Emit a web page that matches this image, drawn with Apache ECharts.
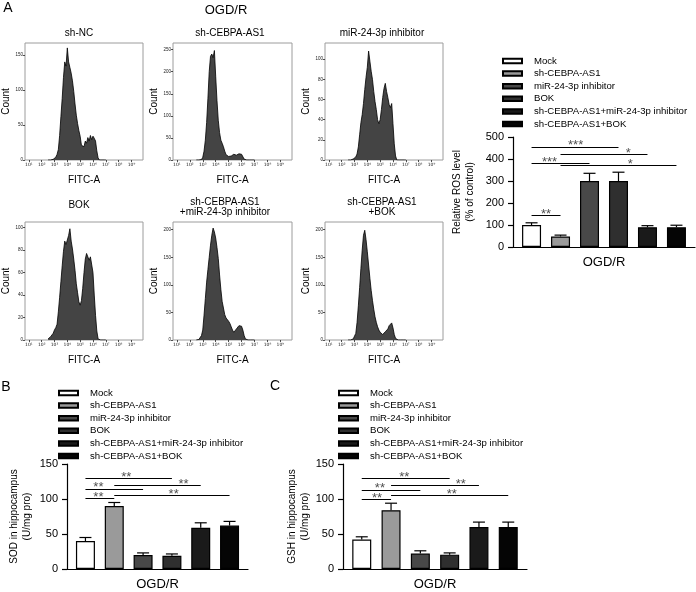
<!DOCTYPE html>
<html>
<head>
<meta charset="utf-8">
<title>OGD/R - ROS, SOD, GSH</title>
<script src="https://cdn.jsdelivr.net/npm/echarts@6/dist/echarts.min.js"></script>
<style>
  html, body { margin: 0; padding: 0; background: #fff; }
  #chart { width: 696px; height: 592px; }
</style>
</head>
<body>
<div id="chart"></div>
<script>
// FITC-A histograms, x = log10(FITC-A)
const fitcLog = [2.5, 2.6, 2.7, 2.8, 2.9, 3.0, 3.1, 3.2, 3.3, 3.4, 3.5, 3.6, 3.7, 3.8, 3.9, 4.0, 4.1, 4.2, 4.3, 4.4, 4.5, 4.6, 4.7, 4.8, 4.9, 5.0, 5.1, 5.2, 5.3, 5.4, 5.5, 5.6, 5.7, 5.8, 5.9, 6.0, 6.1, 6.2, 6.3, 6.4, 6.5, 6.6, 6.7, 6.8, 6.9, 7.0]
const shNC = [0, 0, 0, 0, 1, 2, 4, 8, 15, 35, 62, 88, 118, 140, 134, 160, 140, 132, 124, 113, 98, 80, 64, 52, 42, 34, 21, 23, 19, 27, 24, 32, 27, 35, 29, 34, 31, 27, 13, 3, 0, 0, 0, 0, 0, 0]
const shCebpa = [0, 0, 0, 0, 1, 6, 20, 45, 85, 140, 200, 235, 240, 232, 248, 190, 135, 90, 62, 45, 38, 30, 20, 12, 10, 8, 11, 9, 12, 13, 10, 11, 9, 14, 15, 13, 9, 2, 0, 0, 0, 0, 0, 0, 0, 0]
const mirInhibitor = [0, 0, 0, 0, 1, 2, 3, 6, 13, 25, 37, 45, 56, 70, 82, 92, 108, 98, 88, 80, 68, 58, 50, 40, 36, 40, 50, 62, 71, 76, 68, 62, 55, 52, 56, 36, 16, 4, 0, 0, 0, 0, 0, 0, 0, 0]
const bok = [1, 2, 3, 4, 6, 9, 11, 14, 25, 38, 52, 66, 79, 88, 85, 84, 93, 99, 88, 81, 72, 62, 50, 42, 34, 31, 35, 46, 60, 72, 77, 78, 71, 74, 75, 60, 40, 22, 8, 1, 0, 0, 0, 0, 0, 0]
const shCebpaMir = [0, 0, 1, 3, 8, 18, 45, 75, 105, 128, 150, 172, 190, 203, 196, 185, 168, 148, 118, 92, 70, 58, 46, 40, 38, 34, 30, 24, 18, 14, 16, 20, 22, 26, 29, 25, 18, 8, 2, 0, 0, 0, 0, 0, 0, 0]
const shCebpaBok = [0, 0, 0, 1, 2, 4, 12, 32, 62, 95, 130, 163, 190, 199, 182, 160, 136, 112, 90, 72, 56, 42, 32, 24, 18, 14, 12, 10, 12, 15, 18, 20, 26, 29, 31, 22, 10, 3, 0, 0, 0, 0, 0, 0, 0, 0]

const histTitles = ['sh-NC', 'sh-CEBPA-AS1', 'miR-24-3p inhibitor', 'BOK', 'sh-CEBPA-AS1\n+miR-24-3p inhibitor', 'sh-CEBPA-AS1\n+BOK']
const fitcDecades = [1, 2, 3, 4, 5, 6, 7, 8, 9]
const histYTicks = [
  [0, 50, 100, 150],
  [0, 50, 100, 150, 200, 250],
  [0, 20, 40, 60, 80, 100],
  [0, 20, 40, 60, 80, 100],
  [0, 50, 100, 150, 200],
  [0, 50, 100, 150, 200]
]

// bar charts
const groups = ['Mock', 'sh-CEBPA-AS1', 'miR-24-3p inhibitor', 'BOK', 'sh-CEBPA-AS1+miR-24-3p inhibitor', 'sh-CEBPA-AS1+BOK']
const rosMean = [100, 48, 300, 300, 90, 90]
const rosSd = [10, 6, 35, 40, 7, 9]
const sodMean = [40, 90, 20, 19, 59, 62]
const sodSd = [5, 5, 3, 2.5, 7, 6]
const gshMean = [42, 84, 22, 20.5, 60, 60]
const gshSd = [4, 10, 4, 2.5, 7, 7]

// significance: [from group, to group, level, stars, star position]
const rosSig = [[0, 3, 455, '***', 1.52], [1, 4, 423, '*', 3.34], [0, 2, 382, '***', 0.62], [1, 5, 373, '*', 3.41], [0, 1, 145, '**', 0.5]]
const sodSig = [[0, 3, 129, '**', 1.42], [1, 4, 120, '**', 3.4], [0, 2, 114.5, '**', 0.45], [1, 5, 105, '**', 3.06], [0, 1, 101, '**', 0.45]]
const gshSig = [[0, 3, 129, '**', 1.45], [1, 4, 120, '**', 3.38], [0, 2, 113, '**', 0.62], [1, 5, 105, '**', 3.07], [0, 1, 99.5, '**', 0.52]]

const FONT = 'Arial, "Liberation Sans", Helvetica, sans-serif'
const barColors = ['#ffffff', '#9a9a9a', '#484848', '#2f2f2f', '#1a1a1a', '#050505']
const sup = { 1: '¹', 2: '²', 3: '³', 4: '⁴', 5: '⁵', 6: '⁶', 7: '⁷', 8: '⁸', 9: '⁹' }

// [left, top, width, height, yMax] of each histogram box
const histBoxes = [
  [23, 43, 120, 117, 167],
  [173, 43, 119, 117, 265],
  [325, 43, 118, 117, 116],
  [23, 222, 120, 118, 105],
  [173, 222, 119, 118, 214],
  [325, 222, 118, 118, 214]
]
const histTitlePos = [[79, 33], [230, 33], [382, 33], [79, 205], [225, 207.5], [382, 207]]
const histData = [shNC, shCebpa, mirInhibitor, bok, shCebpaMir, shCebpaBok]

const barPanels = [
  { box: [513, 137, 182, 110], max: 500, interval: 100, yName: 'Relative ROS level\n(% of control)', nameGap: 36, mean: rosMean, sd: rosSd, sig: rosSig, legend: [502, 55] },
  { box: [67, 464, 181, 110], max: 150, interval: 50, yName: 'SOD in hippocampus\n(U/mg pro)', nameGap: 33, mean: sodMean, sd: sodSd, sig: sodSig, legend: [58, 387] },
  { box: [343, 464, 184, 110], max: 150, interval: 50, yName: 'GSH in hippocampus\n(U/mg pro)', nameGap: 31, mean: gshMean, sd: gshSd, sig: gshSig, legend: [338, 387] }
]

const grid = []
const xAxis = []
const yAxis = []
const series = []
const legend = []
const graphic = []

function label (text, x, y, size, extra) {
  graphic.push({
    type: 'text',
    x: x,
    y: y,
    silent: true,
    style: Object.assign({
      text: text,
      font: size + 'px ' + FONT,
      fill: '#000',
      textAlign: 'center',
      textVerticalAlign: 'middle'
    }, extra || {})
  })
}

histBoxes.forEach(function (b, i) {
  grid.push({ left: b[0], top: b[1], width: b[2], height: b[3], show: true, borderColor: '#9c9c9c', borderWidth: 1 })
  xAxis.push({
    type: 'value',
    gridIndex: i,
    min: 0.7,
    max: 9.9,
    axisLine: { show: false },
    axisTick: { show: true, customValues: fitcDecades, length: 2, lineStyle: { color: '#222', width: 0.8 } },
    axisLabel: {
      customValues: fitcDecades,
      fontSize: 4.5,
      margin: 2,
      color: '#222',
      fontFamily: '"DejaVu Sans", sans-serif',
      formatter: function (v) { return '10' + sup[v] }
    },
    splitLine: { show: false },
    name: 'FITC-A',
    nameLocation: 'middle',
    nameGap: 15,
    nameTextStyle: { fontSize: 10, fontFamily: FONT, color: '#000' }
  })
  yAxis.push({
    type: 'value',
    gridIndex: i,
    min: 0,
    max: b[4],
    axisLine: { show: false, onZero: false },
    axisTick: { show: true, customValues: histYTicks[i], length: 2, lineStyle: { color: '#222', width: 0.8 } },
    axisLabel: { customValues: histYTicks[i], fontSize: 4.5, margin: 2, color: '#222' },
    splitLine: { show: false },
    name: 'Count',
    nameLocation: 'middle',
    nameGap: 14,
    nameTextStyle: { fontSize: 10, fontFamily: FONT, color: '#000' }
  })
  series.push({
    type: 'line',
    name: 'hist ' + histTitles[i],
    xAxisIndex: i,
    yAxisIndex: i,
    data: fitcLog.map(function (x, k) { return [x, histData[i][k]] }),
    symbol: 'none',
    silent: true,
    lineStyle: { color: '#000', width: 0.8 },
    areaStyle: { color: '#444444', opacity: 1 }
  })
  label(histTitles[i], histTitlePos[i][0], histTitlePos[i][1], 10, { lineHeight: 10 })
})

function errorBar (params, api) {
  const x = api.value(0)
  const base = api.coord([x, api.value(1)])
  const tip = api.coord([x, api.value(1) + api.value(2)])
  const st = { stroke: '#000', lineWidth: 1.2 }
  return {
    type: 'group',
    children: [
      { type: 'line', shape: { x1: base[0], y1: base[1], x2: tip[0], y2: tip[1] }, style: st },
      { type: 'line', shape: { x1: tip[0] - 6, y1: tip[1], x2: tip[0] + 6, y2: tip[1] }, style: st }
    ]
  }
}

barPanels.forEach(function (p, n) {
  const gi = 6 + n
  grid.push({ left: p.box[0], top: p.box[1], width: p.box[2], height: p.box[3] })
  xAxis.push({
    type: 'value',
    gridIndex: gi,
    min: -0.64,
    max: 5.64,
    axisLine: { onZero: false, lineStyle: { color: '#000', width: 1.2 } },
    axisTick: { show: false },
    axisLabel: { show: false },
    splitLine: { show: false },
    name: 'OGD/R',
    nameLocation: 'middle',
    nameGap: 9,
    nameTextStyle: { fontSize: 13, fontFamily: FONT, color: '#000' }
  })
  yAxis.push({
    type: 'value',
    gridIndex: gi,
    min: 0,
    max: p.max,
    interval: p.interval,
    axisLine: { show: true, onZero: false, lineStyle: { color: '#000', width: 1.2 } },
    axisTick: { show: true, length: 5, lineStyle: { color: '#000', width: 1.2 } },
    axisLabel: { fontSize: 11, margin: 9, color: '#000', fontFamily: FONT },
    splitLine: { show: false },
    name: p.yName,
    nameLocation: 'middle',
    nameGap: p.nameGap,
    nameTextStyle: { fontSize: 10, lineHeight: 13, fontFamily: FONT, color: '#000' }
  })
  groups.forEach(function (g, i) {
    series.push({
      type: 'bar',
      name: g,
      xAxisIndex: gi,
      yAxisIndex: gi,
      data: [[i, p.mean[i]]],
      barWidth: 19,
      barGap: '-100%',
      itemStyle: { color: barColors[i], borderColor: '#000', borderWidth: 1.2 }
    })
  })
  series.push({
    type: 'custom',
    name: 'sd ' + n,
    xAxisIndex: gi,
    yAxisIndex: gi,
    data: p.mean.map(function (m, i) { return [i, m, p.sd[i]] }),
    renderItem: errorBar,
    silent: true,
    z: 3
  })
  series.push({
    type: 'scatter',
    name: 'sig ' + n,
    xAxisIndex: gi,
    yAxisIndex: gi,
    symbolSize: 1,
    itemStyle: { color: 'transparent' },
    silent: true,
    data: p.sig.map(function (s) {
      return { value: [s[4], s[2]], label: { formatter: s[3] } }
    }),
    label: { show: true, position: 'top', distance: -6, fontSize: 13, color: '#222', fontFamily: FONT },
    markLine: {
      silent: true,
      symbol: ['none', 'none'],
      label: { show: false },
      lineStyle: { color: '#000', width: 1, type: 'solid' },
      data: p.sig.map(function (s) { return [{ coord: [s[0], s[2]] }, { coord: [s[1], s[2]] }] })
    }
  })
  legend.push({
    left: p.legend[0],
    top: p.legend[1],
    padding: 0,
    orient: 'vertical',
    icon: 'rect',
    itemWidth: 19,
    itemHeight: 4.5,
    itemGap: 0.6,
    selectedMode: false,
    textStyle: { fontSize: 9.6, lineHeight: 12, fontFamily: FONT, color: '#000', padding: [0, 0, 0, 7] },
    data: groups
  })
})

label('A', 8, 8, 14)
label('OGD/R', 226, 10, 13)
label('B', 6, 387, 14)
label('C', 275, 386, 14)

const chart = echarts.init(document.getElementById('chart'))
chart.setOption({
  animation: false,
  textStyle: { fontFamily: FONT },
  grid: grid,
  xAxis: xAxis,
  yAxis: yAxis,
  legend: legend,
  graphic: graphic,
  series: series
})
</script>
</body>
</html>
